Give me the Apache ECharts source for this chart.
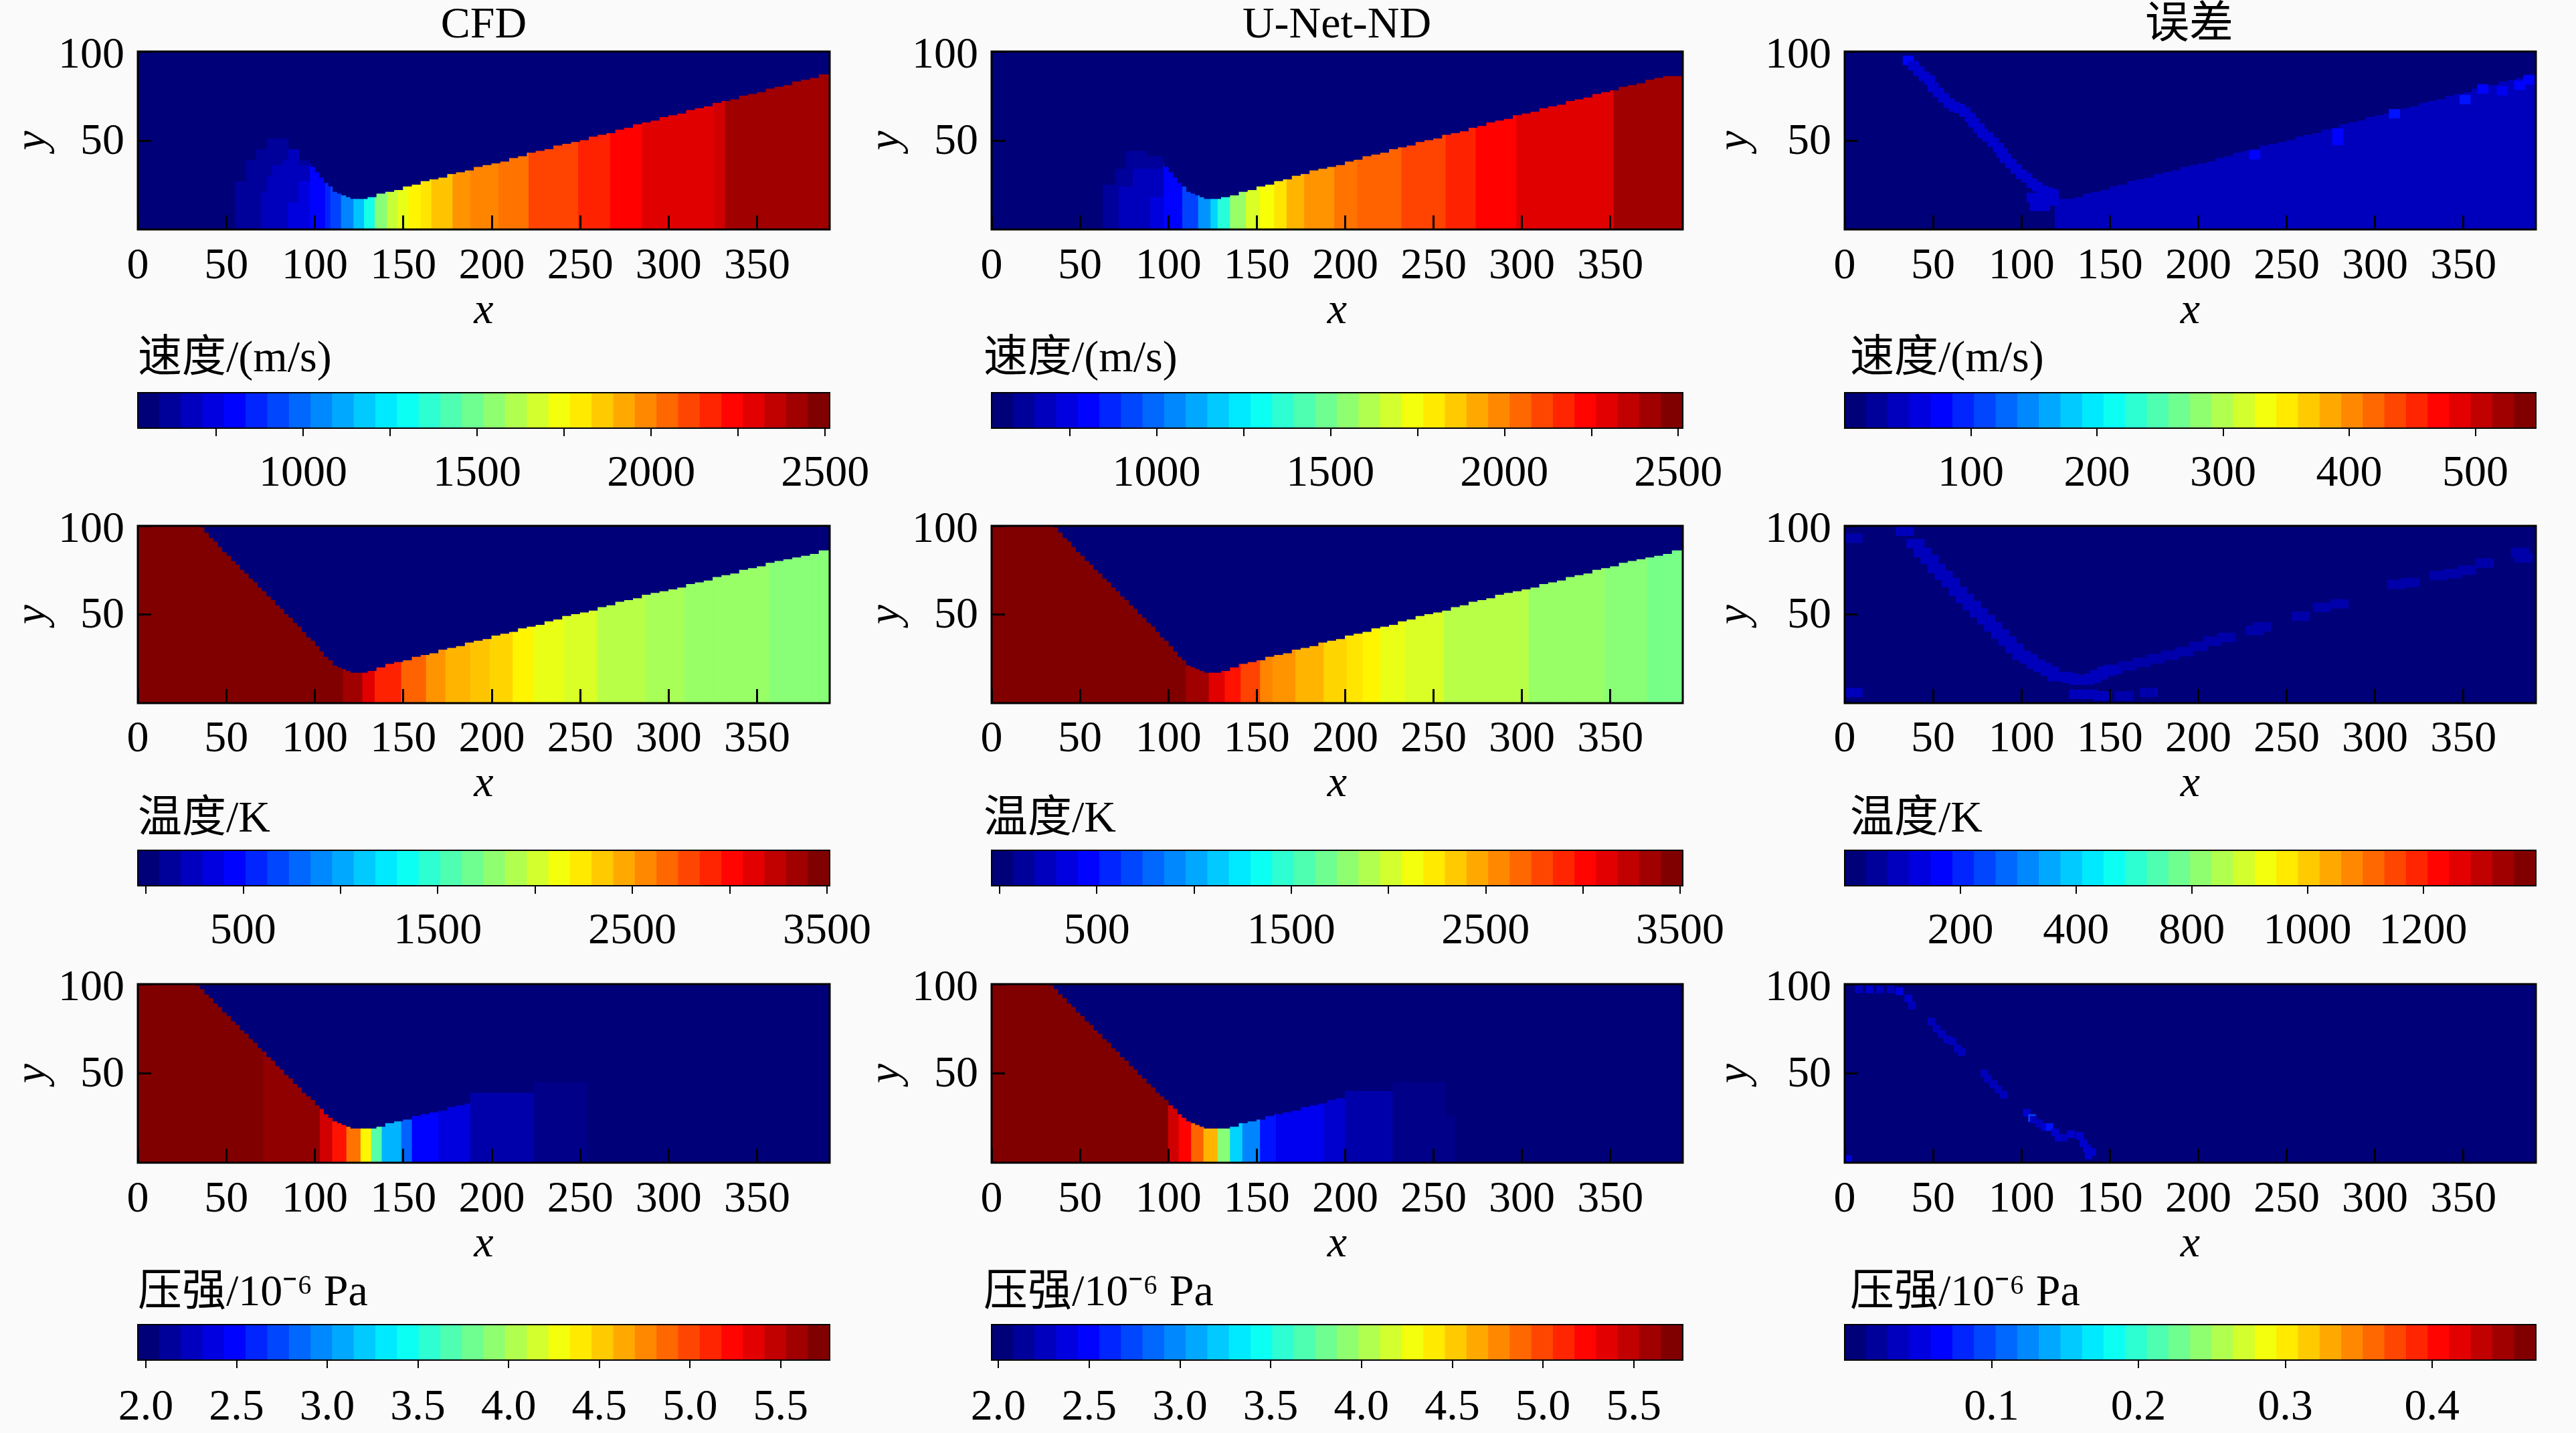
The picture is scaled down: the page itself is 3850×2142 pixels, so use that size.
<!DOCTYPE html>
<html><head><meta charset="utf-8"><style>html,body{margin:0;padding:0;background:#fafafa}#c{width:3850px;height:2142px}</style>
<script src="https://cdn.jsdelivr.net/npm/echarts@6/dist/echarts.min.js"></script></head>
<body><div id="c"></div><script>
// ---- tick labels / text ----
const columnTitles = ['CFD', 'U-Net-ND', '误差'];
const xTicks = [0, 50, 100, 150, 200, 250, 300, 350];
const yTicks = [50, 100];
const velocityTitle = '速度/(m/s)', temperatureTitle = '温度/K', pressureTitle = '压强/10⁻⁶ Pa';

// ---- left edge of the flow: height per 2.5 units of x, for x from 0 to 125 ----
const shockTemp = [100,100,100,100,100,100,100,100,100,100,100,100,100,100,99,96,93,91,88,85,83,80,78,75,73,70,68,65,63,60,58,55,53,50,48,45,43,40,37,35,32,29,26,24,21,20,19,18,17,17];
const shockPressure = [100,100,100,100,100,100,100,100,100,100,100,100,100,99,97,94,92,89,87,84,82,79,77,74,72,69,67,64,62,59,57,54,52,49,47,44,42,39,37,35,32,30,27,25,23,22,21,20,19,19];
// ---- right edge of the flow: height per 5 units of x, from x = 125 ----
const wallCfd = [17,18,20,21,22,24,25,27,28,29,31,32,33,35,36,37,38,40,41,43,44,45,47,48,49,50,52,53,54,56,57,59,60,61,63,64,65,67,68,69,71,72,73,75,76,77,79,80,81,83,84,85,87];
const wallUnet = [17,18,19,21,22,24,25,27,28,30,31,33,34,35,36,38,39,41,42,43,45,46,47,49,50,51,53,54,55,57,58,60,61,62,64,65,66,68,69,70,72,73,74,76,77,78,80,81,82,84,85,86,86];
const wallTemp = [17,18,20,22,23,24,26,27,28,30,31,32,34,35,36,38,39,40,42,43,44,46,47,49,50,51,52,54,55,57,58,59,61,62,63,64,65,67,68,69,71,72,73,75,76,77,79,80,81,82,83,84,86];
const wallPressure = [19,19,20,22,23,24,26,27,28,29,31,32,33,35,36,37];

// ---- vertical bands [x start, value]; a null value ends the last band ----
const velocityCfdBands = [[0,525],[97,783],[106,843],[109,903],[115,1022],[122,1161],[128,1320],[134,1519],[141,1658],[147,1718],[153,1768],[160,1807],[166,1877],[178,1976],[188,2006],[204,2046],[221,2135],[249,2175],[267,2235],[285,2314],[326,2354],[332,2433],[391,null]];
const velocityUnetBands = [[0,525],[97,783],[108,903],[117,1062],[124,1181],[128,1360],[135,1559],[144,1678],[152,1758],[160,1817],[167,1897],[177,1956],[194,2016],[207,2076],[232,2135],[257,2195],[274,2245],[297,2314],[352,2433],[391,null]];
const velocityErrBands = [[119,38],[391,null]];
const tempCfdBands = [[0,3514],[91,3461],[116,3354],[127,3158],[134,2945],[149,2696],[163,2554],[174,2448],[188,2376],[199,2305],[212,2181],[224,2092],[241,2021],[260,1950],[287,1879],[309,1825],[357,1772],[381,1737],[391,null]];
const tempUnetBands = [[0,3461],[110,3354],[123,3176],[132,2981],[141,2803],[152,2625],[159,2519],[172,2412],[188,2341],[201,2252],[210,2181],[220,2092],[234,2021],[256,1950],[292,1914],[304,1825],[347,1772],[371,1701],[391,null]];
const pressureCfdBands = [[0,5.77],[71,5.71],[103,5.43],[110,5.20],[118,4.82],[126,4.36],[132,3.71],[138,3.14],[149,2.80],[155,2.45],[170,2.34],[188,null]];
const pressureUnetBands = [[0,5.77],[100,5.43],[106,5.24],[113,4.93],[120,4.59],[128,3.87],[135,3.26],[142,2.91],[152,2.53],[161,2.42],[188,2.31],[200,null]];

// ---- extra patches [x start, x end, top y, value] ----
const velocityCfdPatches = [[55,61,27,600],[61,67,39,600],[67,73,45,600],[73,85,51,600],[85,91,45,600],[91,97,39,600],[70,73,21,680],[73,76,30,680],[76,82,36,680],[82,85,39,680],[85,91,45,680],[91,97,36,680],[85,91,15,740],[91,97,27,740]];
const velocityUnetPatches = [[63,70,25,600],[70,76,34,600],[76,88,44,600],[88,97,41,600],[72,80,24,680],[80,97,34,680],[90,97,18,740]];
const pressureCfdPatches = [[188,224,39,2.19],[224,254,45,2.07]];
const pressureUnetPatches = [[200,227,40,2.19],[227,257,45,2.07],[257,262,26,2.07]];

// ---- error streak samples [x, y, value] ----
const velocityErrStreak = [[36,95,70],[39,92,48],[42,89,48],[45,86,48],[48,84,45],[50,80,45],[53,77,45],[56,74,45],[59,71,48],[62,69,45],[65,68,45],[68,66,45],[71,63,45],[73,60,45],[76,57,48],[78,54,45],[81,52,45],[84,49,45],[87,46,45],[89,43,45],[91,40,45],[94,37,45],[97,34,45],[100,31,45],[103,29,45],[106,26,45],[109,24,45],[112,22,45],[115,21,45],[118,20,45],[106,18,45],[112,18,45],[118,16,45],[108,13,45],[113,13,45],[232,42,70],[279,54,70],[279,50,70],[311,65,85],[351,73,85],[361,79,75],[372,78,65],[382,81,70],[387,84,70]];
const tempErrStreak = [[34,97,75],[40,90,75],[44,85,75],[48,81,75],[52,76,75],[56,72,75],[60,68,75],[64,63,75],[68,59,75],[72,55,75],[76,51,75],[80,47,75],[84,43,75],[88,39,75],[92,35,75],[96,31,75],[100,27,85],[104,25,85],[108,22,85],[112,20,85],[116,18,85],[120,15,85],[124,15,85],[128,14,85],[132,13,85],[136,13,75],[140,14,75],[144,16,75],[148,18,75],[152,19,75],[160,21,70],[168,23,70],[176,25,70],[184,27,70],[192,29,70],[200,32,70],[208,35,70],[216,37,70],[232,41,70],[236,43,70],[258,49,70],[270,54,60],[280,56,70],[312,67,70],[320,68,70],[336,72,70],[344,73,70],[352,75,70],[362,79,70],[382,85,70],[384,82,70],[132,5,75],[138,5,75],[146,4,75],[158,4,65],[172,6,65],[5,6,75],[5,93,65]];
const pressureErrStreak = [[8,97,.03],[14,97,.04],[20,97,.03],[26,97,.03],[31,96,.05],[36,92,.04],[38,88,.03],[49,79,.03],[52,75,.03],[55,72,.03],[58,69,.03],[61,68,.03],[64,64,.03],[66,62,.03],[79,50,.03],[81,47,.03],[84,44,.03],[87,41,.03],[90,38,.03],[103,28,.04],[106,25,.09],[107,24,.03],[110,22,.03],[113,20,.04],[116,20,.07],[119,17,.04],[121,14,.04],[124,14,.03],[128,16,.04],[133,15,.04],[135,11,.04],[137,8,.04],[140,6,.04],[138,4,.04],[2,2,.05]];

// ---- colour-bar ranges and ticks ----
const velocityRange = [525, 2513], velocityErrRange = [0, 548];
const tempRange = [-41, 3514], tempErrRange = [0, 1195];
const pressureRange = [1.956, 5.77], pressureErrRange = [0, 0.4707];
const velocityTickValues = [750,1000,1250,1500,1750,2000,2250,2500], velocityLabelValues = [1000,1500,2000,2500];
const velocityErrTickValues = [100,200,300,400,500];
const tempTickValues = [0,500,1000,1500,2000,2500,3000,3500], tempLabelValues = [500,1500,2500,3500];
const tempErrTickValues = [200,400,600,800,1000];
const tempErrLabelTexts = ['200','400','800','1000','1200'];
const pressureTickValues = [2,2.5,3,3.5,4,4.5,5,5.5];
const pressureErrTickValues = [.1,.2,.3,.4];

const SERIF = '"Liberation Serif","Noto Sans CJK SC",serif';
const BG = '#fafafa', BAR_LEVELS = 32, FIELD_LEVELS = 64, XMAX = 391;

function lerp(pts, t){ for(let i=1;i<pts.length;i++){ if(t<=pts[i][0]){ const a=pts[i-1],b=pts[i]; return a[1]+(b[1]-a[1])*(t-a[0])/(b[0]-a[0]); } } return pts[pts.length-1][1]; }
const jetR=[[0,0],[.375,0],[.625,1],[.875,1],[1,.5]], jetG=[[0,0],[.125,0],[.375,1],[.625,1],[.875,0],[1,0]], jetB=[[0,.47],[.125,1],[.375,1],[.625,0],[1,0]];
function jet(v,range,levels){
  let t=(v-range[0])/(range[1]-range[0]); t=Math.max(0,Math.min(.9999,t));
  const k=Math.floor(t*levels)/(levels-1), c=a=>Math.round(255*lerp(a,k));
  return `rgb(${c(jetR)},${c(jetG)},${c(jetB)})`;
}

// field rectangles [x0,x1,y0,y1,v]
function bandCells(bands, shock, wall){
  const out=[];
  for(let b=0;b<bands.length-1;b++){
    const end=bands[b+1][0], v=bands[b][1];
    let x=bands[b][0];
    while(x<end){
      const left=x<125, size=left?2.5:5, col=Math.floor(x/size), nx=Math.min(end,(col+1)*size);
      const top=left?shock[col]:wall[Math.min(wall.length-1,col-25)];
      out.push([x,nx,0,top,v]); x=nx;
    }
  }
  return out;
}
const patchCells = ps => ps.map(p=>[p[0],p[1],0,p[2],p[3]]);
const streakCells = (ps,w,h) => ps.map(p=>[p[0]-w/2,p[0]+w/2,p[1]-h/2,p[1]+h/2,p[2]]);
const base = r => [[0,XMAX,0,100,r[0]]];

const panels = [
 [{cells:[...base(velocityRange),...bandCells(velocityCfdBands,shockTemp,wallCfd),...patchCells(velocityCfdPatches)],range:velocityRange},
  {cells:[...base(velocityRange),...bandCells(velocityUnetBands,shockTemp,wallUnet),...patchCells(velocityUnetPatches)],range:velocityRange},
  {cells:[...base(velocityErrRange),...bandCells(velocityErrBands,shockTemp,wallCfd),...streakCells(velocityErrStreak,6,5)],range:velocityErrRange}],
 [{cells:[...base(tempRange),...bandCells(tempCfdBands,shockTemp,wallTemp)],range:tempRange},
  {cells:[...base(tempRange),...bandCells(tempUnetBands,shockTemp,wallTemp)],range:tempRange},
  {cells:[...base(tempErrRange),...streakCells(tempErrStreak,10,5)],range:tempErrRange}],
 [{cells:[...base(pressureRange),...bandCells(pressureCfdBands,shockPressure,wallPressure),...patchCells(pressureCfdPatches)],range:pressureRange},
  {cells:[...base(pressureRange),...bandCells(pressureUnetBands,shockPressure,wallPressure),...patchCells(pressureUnetPatches)],range:pressureRange},
  {cells:[...base(pressureErrRange),...streakCells(pressureErrStreak,4,4)],range:pressureErrRange}]
];

// layout
const FS=66;
const colLeft=[206,1482,2757], colWidth=[1034,1033,1033], yNameGap=[121,123,130];
const rowTop=[77,786,1471], rowBottom=[343,1051,1738];
const cbTop=[587,1271,1980], cbBottom=[640,1324,2033], cbTitleY=[538,1226,1934];
const cbLabelMargin=[36,36,39], xLabelMargin=[23,22,23];
const cbTitleLeft=[206,1470,2765], rowTitles=[velocityTitle,temperatureTitle,pressureTitle];
const colTitleX=[723,1998,3272];
const bars=[
 [{r:velocityRange,t:velocityTickValues,l:velocityLabelValues},{r:[526,2513],t:velocityTickValues,l:velocityLabelValues},{r:velocityErrRange,t:velocityErrTickValues,l:velocityErrTickValues}],
 [{r:tempRange,t:tempTickValues,l:tempLabelValues},{r:tempRange,t:tempTickValues,l:tempLabelValues},{r:tempErrRange,t:tempErrTickValues,l:tempErrTickValues,texts:tempErrLabelTexts}],
 [{r:pressureRange,t:pressureTickValues,l:pressureTickValues,f:1},{r:[1.963,5.77],t:pressureTickValues,l:pressureTickValues,f:1},{r:pressureErrRange,t:pressureErrTickValues,l:pressureErrTickValues,f:1}]
];

function cellRender(range,levels){
  return (params,api)=>{
    const a=api.coord([api.value(0),api.value(3)]), b=api.coord([api.value(1),api.value(2)]);
    return {type:'rect',shape:{x:a[0]-.4,y:a[1]-.4,width:b[0]-a[0]+.8,height:b[1]-a[1]+.8},style:{fill:jet(api.value(4),range,levels)}};
  };
}
function frameRender(lw){
  return (params)=>{ const c=params.coordSys;
    return {type:'rect',shape:{x:c.x,y:c.y,width:c.width,height:c.height},style:{fill:'none',stroke:'#000',lineWidth:lw}}; };
}

const option={animation:false,backgroundColor:BG,title:[],grid:[],xAxis:[],yAxis:[],series:[]};
const txt={fontFamily:SERIF,color:'#000',fontSize:FS,fontWeight:'normal'};
columnTitles.forEach((t,c)=>option.title.push({text:t,left:colTitleX[c],top:6,padding:0,textAlign:'center',textStyle:{...txt}}));

for(let r=0;r<3;r++) for(let c=0;c<3;c++){
  // field panel
  let g=option.grid.length;
  option.grid.push({left:colLeft[c],top:rowTop[r],width:colWidth[c],height:rowBottom[r]-rowTop[r],containLabel:false});
  option.xAxis.push({type:'value',gridIndex:g,min:0,max:XMAX,z:10,splitLine:{show:false},axisLine:{show:false},
    axisTick:{show:true,inside:true,length:21,lineStyle:{color:'#000',width:3},customValues:xTicks},
    axisLabel:{...txt,margin:xLabelMargin[r],customValues:xTicks,showMinLabel:true,hideOverlap:false},
    name:'x',nameLocation:'middle',nameGap:82,nameTextStyle:{...txt,fontStyle:'italic'}});
  option.yAxis.push({type:'value',gridIndex:g,min:0,max:100,z:10,splitLine:{show:false},axisLine:{show:false},
    axisTick:{show:true,inside:true,length:20,lineStyle:{color:'#000',width:3},customValues:yTicks},
    axisLabel:{...txt,margin:20,customValues:yTicks,hideOverlap:false,
      formatter:v=>v===100?'{top|100}':'{mid|'+v+'}',
      rich:{top:{...txt,padding:[14,0,0,0]},mid:{...txt,padding:[5,0,0,0]}}},
    name:'y',nameLocation:'middle',nameGap:yNameGap[c],nameTextStyle:{...txt,fontStyle:'italic'}});
  option.series.push({type:'custom',xAxisIndex:g,yAxisIndex:g,z:2,clip:true,silent:true,data:panels[r][c].cells,
    encode:{x:[0,1],y:[2,3]},dimensions:['x0','x1','y0','y1','v'],renderItem:cellRender(panels[r][c].range,FIELD_LEVELS)});
  option.series.push({type:'custom',xAxisIndex:g,yAxisIndex:g,z:5,clip:false,silent:true,data:[[0,0]],renderItem:frameRender(3)});
  // colour bar
  const b=bars[r][c]; g=option.grid.length;
  const step=(b.r[1]-b.r[0])/BAR_LEVELS, levels=[];
  for(let k=0;k<BAR_LEVELS;k++) levels.push([b.r[0]+k*step,b.r[0]+(k+1)*step,0,1,b.r[0]+(k+.5)*step]);
  option.grid.push({left:colLeft[c],top:cbTop[r],width:colWidth[c],height:cbBottom[r]-cbTop[r]});
  option.xAxis.push({type:'value',gridIndex:g,min:b.r[0],max:b.r[1],z:10,splitLine:{show:false},axisLine:{show:false},
    axisTick:{show:true,length:12,lineStyle:{color:'#000',width:2},customValues:b.t},
    axisLabel:{...txt,margin:cbLabelMargin[r],customValues:b.l,hideOverlap:false,
      formatter:v=>b.texts?b.texts[b.l.indexOf(v)]:(b.f?v.toFixed(b.f):String(v))}});
  option.yAxis.push({type:'value',gridIndex:g,min:0,max:1,show:false});
  option.series.push({type:'custom',xAxisIndex:g,yAxisIndex:g,z:2,clip:true,silent:true,data:levels,
    encode:{x:[0,1],y:[2,3]},dimensions:['x0','x1','y0','y1','v'],renderItem:cellRender(b.r,BAR_LEVELS)});
  option.series.push({type:'custom',xAxisIndex:g,yAxisIndex:g,z:5,clip:false,silent:true,data:[[b.r[0],0]],renderItem:frameRender(2)});
  option.title.push({text:rowTitles[r],left:cbTitleLeft[c],top:cbTitleY[r]-33,padding:0,textStyle:{...txt}});
}
const chart=echarts.init(document.getElementById('c'),null,{renderer:'canvas',width:3850,height:2142});
chart.setOption(option);
</script></body></html>
